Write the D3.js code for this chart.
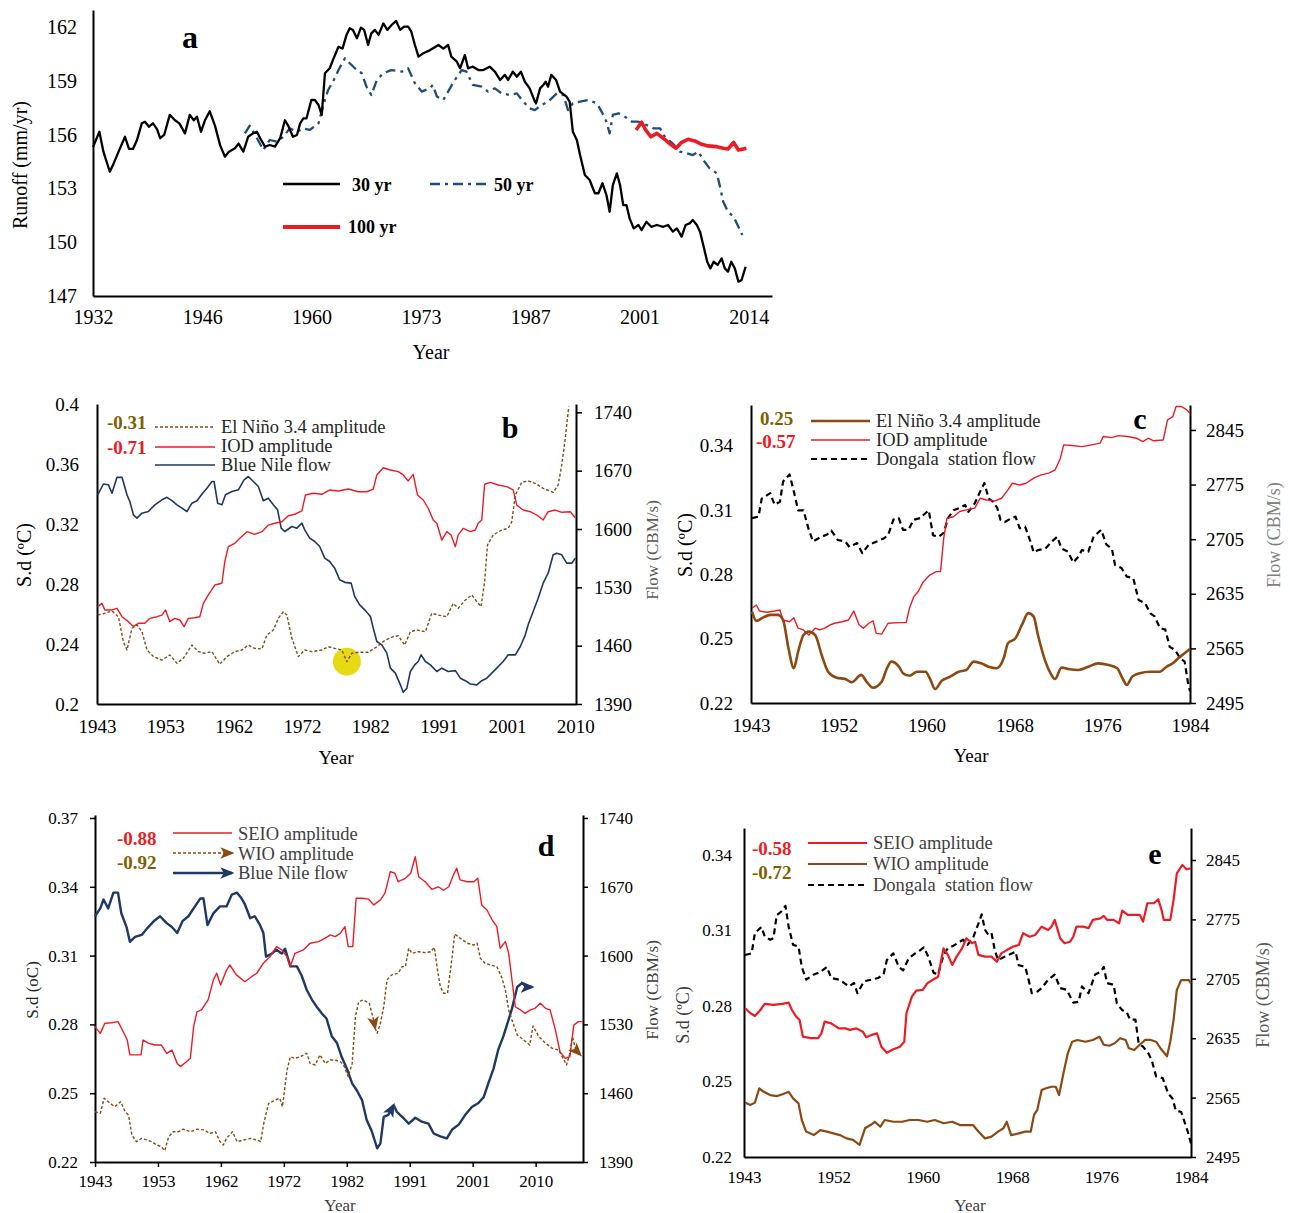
<!DOCTYPE html>
<html>
<head>
<meta charset="utf-8">
<script src="https://cdn.jsdelivr.net/npm/d3@7"></script>
<style>
  body { margin: 0; background: #fff; }
  svg, svg text { font-family: "Liberation Serif", "Times New Roman", serif; }
  .axis .domain { stroke: #000; stroke-width: 2; }
  .axis .tick line { stroke: #000; stroke-width: 1.5; }
  .axis .tick text { fill: #000; }
</style>
</head>
<body>
<svg id="fig" width="1290" height="1213"></svg>
<script>
// ---------- panel a : runoff moving averages ----------
const runoffYears = ['1932', '1946', '1960', '1973', '1987', '2001', '2014'];
const runoffTicks = [147, 150, 153, 156, 159, 162];
const runoff30 = [[1932.0,155.3],[1932.8,156.16],[1933.3,155.05],[1934.1,153.93],[1934.5,154.3],[1935.2,155.05],[1936.0,155.88],[1936.5,155.2],[1937.0,155.2],[1937.5,155.7],[1938.1,156.63],[1938.5,156.72],[1939.0,156.44],[1939.5,156.63],[1940.0,156.31],[1940.4,155.8],[1940.9,155.98],[1941.6,157.1],[1942.25,156.8],[1942.8,156.63],[1943.5,156.07],[1944.1,157.1],[1944.6,156.8],[1945.0,157.0],[1945.5,156.16],[1946.0,156.8],[1946.6,157.3],[1947.25,156.5],[1947.9,155.4],[1948.5,154.77],[1949.0,155.05],[1949.75,155.24],[1950.2,155.5],[1950.8,155.05],[1951.4,155.88],[1952.0,156.07],[1952.5,156.16],[1952.9,155.8],[1953.5,155.33],[1954.1,155.42],[1954.75,155.33],[1955.4,155.8],[1956.0,156.8],[1956.4,156.5],[1957.0,155.88],[1957.5,155.98],[1957.9,156.63],[1958.3,156.91],[1958.7,156.91],[1959.3,157.93],[1959.75,157.93],[1960.2,157.65],[1960.6,157.1],[1961.0,159.42],[1961.6,159.7],[1962.0,160.16],[1962.7,160.9],[1963.2,160.8],[1963.7,161.56],[1964.1,161.93],[1964.5,161.84],[1965.0,161.37],[1965.5,161.97],[1965.9,161.84],[1966.4,161.0],[1966.8,161.65],[1967.25,161.84],[1967.7,161.56],[1968.3,162.2],[1968.8,161.84],[1969.3,162.1],[1969.9,162.34],[1970.4,161.84],[1970.9,162.02],[1971.4,162.02],[1971.8,161.74],[1972.25,161.0],[1972.7,160.35],[1973.3,160.54],[1974.1,160.7],[1975.2,161.0],[1975.8,160.8],[1976.4,161.0],[1976.8,160.35],[1977.5,160.07],[1977.9,159.7],[1978.5,160.44],[1978.9,159.7],[1979.5,159.79],[1980.2,159.6],[1980.8,159.6],[1981.6,159.79],[1982.25,159.51],[1982.9,159.05],[1983.5,159.33],[1983.9,159.05],[1984.5,159.51],[1985.0,159.23],[1985.5,159.51],[1986.0,158.95],[1986.6,158.58],[1987.25,157.84],[1987.4,157.75],[1987.9,158.58],[1988.3,158.77],[1988.6,158.95],[1988.9,158.67],[1989.3,159.33],[1989.9,159.05],[1990.4,158.4],[1991.2,158.12],[1991.6,157.84],[1992.0,156.16],[1992.5,155.7],[1992.9,154.86],[1993.5,153.75],[1994.1,153.47],[1994.75,152.73],[1995.2,152.73],[1995.7,153.29],[1996.2,152.63],[1996.6,151.7],[1997.0,153.19],[1997.5,153.84],[1997.9,153.19],[1998.3,152.07],[1998.7,152.07],[1999.1,151.33],[1999.6,150.77],[2000.2,150.96],[2000.6,150.68],[2001.2,151.14],[2001.8,150.86],[2002.5,150.96],[2003.3,150.86],[2003.9,150.96],[2004.5,150.59],[2005.0,150.77],[2005.6,150.31],[2006.1,150.96],[2006.6,151.05],[2007.0,151.24],[2007.5,150.96],[2007.9,150.59],[2008.4,149.66],[2008.8,148.91],[2009.2,148.54],[2009.6,148.91],[2010.1,148.73],[2010.6,149.1],[2011.0,148.54],[2011.4,148.36],[2011.8,148.91],[2012.25,148.54],[2012.7,147.8],[2013.1,147.89],[2013.6,148.63]];
const runoff50 = [[1951.0,156.07],[1951.6,156.5],[1952.5,155.8],[1953.3,155.14],[1954.1,155.7],[1955.0,155.6],[1955.8,155.88],[1956.6,156.35],[1957.5,156.16],[1958.3,156.35],[1959.1,156.26],[1960.2,156.63],[1960.8,157.65],[1961.4,158.49],[1962.0,158.95],[1962.7,159.6],[1963.5,160.26],[1964.1,159.98],[1964.75,159.7],[1965.6,159.42],[1966.2,158.67],[1966.8,158.21],[1967.5,159.05],[1968.3,159.42],[1969.3,159.6],[1970.6,159.51],[1971.4,159.7],[1972.25,158.86],[1973.1,158.4],[1974.1,158.58],[1974.5,158.77],[1975.0,158.12],[1975.8,157.93],[1976.4,158.4],[1977.25,159.05],[1978.1,159.6],[1978.7,159.51],[1979.5,158.77],[1980.6,158.67],[1981.4,158.4],[1982.25,158.58],[1983.1,158.3],[1984.1,158.21],[1985.0,158.3],[1985.8,157.84],[1986.6,157.47],[1987.25,157.37],[1988.1,157.65],[1988.9,157.84],[1990.0,158.3],[1990.8,158.21],[1991.4,157.37],[1992.0,157.75],[1992.9,157.84],[1993.9,157.93],[1995.0,157.75],[1995.6,157.28],[1996.2,156.72],[1996.6,156.07],[1997.0,157.1],[1997.7,157.19],[1998.5,157.0],[1999.4,156.72],[2000.2,156.72],[2001.2,156.54],[2002.1,156.35],[2002.9,156.35],[2003.5,155.88],[2004.5,155.5],[2005.4,155.05],[2006.2,154.96],[2007.0,154.86],[2007.7,155.05],[2008.3,154.59],[2009.1,154.12],[2010.0,153.84],[2010.4,153.1],[2010.8,152.26],[2011.4,151.7],[2012.1,151.42],[2012.7,150.86],[2013.2,150.4]];
const runoff100 = [[1999.9,156.26],[2000.6,156.69],[2001.1,156.26],[2001.75,155.88],[2002.5,156.07],[2003.3,155.8],[2004.1,155.5],[2004.9,155.24],[2005.6,155.57],[2006.4,155.74],[2007.25,155.65],[2008.1,155.46],[2008.9,155.37],[2010.0,155.33],[2010.8,155.24],[2011.4,155.2],[2012.1,155.57],[2012.7,155.14],[2013.3,155.2],[2013.7,155.24]];

// ---------- panel b : Blue Nile vs El Nino / IOD ----------
const longYears = ['1943', '1953', '1962', '1972', '1982', '1991', '2001', '2010'];
const sdTicksB = [0.2, 0.24, 0.28, 0.32, 0.36, 0.4];
const flowTicksBlue = [1390, 1460, 1530, 1600, 1670, 1740];
const ninoB = [[1943.1,0.2593],[1944.1,0.2605],[1945.1,0.262],[1946.0,0.2582],[1946.7,0.2415],[1947.2,0.236],[1947.9,0.2505],[1948.6,0.2527],[1949.3,0.2482],[1950.0,0.236],[1950.9,0.2316],[1952.1,0.2293],[1953.2,0.2327],[1954.2,0.2271],[1955.1,0.2305],[1956.3,0.2393],[1957.2,0.2349],[1958.1,0.2338],[1959.1,0.2349],[1960.2,0.2265],[1961.2,0.2316],[1962.3,0.2349],[1963.3,0.236],[1964.2,0.2393],[1965.1,0.2371],[1966.1,0.2367],[1966.8,0.246],[1967.7,0.2493],[1968.4,0.2571],[1969.1,0.2615],[1969.6,0.2593],[1970.3,0.2438],[1971.2,0.2316],[1972.1,0.236],[1973.1,0.2349],[1974.5,0.236],[1975.4,0.2382],[1976.3,0.2371],[1977.3,0.236],[1978.0,0.2282],[1978.7,0.2338],[1979.6,0.2345],[1981.0,0.2345],[1982.2,0.2382],[1983.4,0.2427],[1984.5,0.2449],[1985.2,0.2455],[1986.1,0.2393],[1986.9,0.2482],[1987.8,0.2493],[1989.0,0.2482],[1989.9,0.2605],[1990.8,0.2593],[1992.0,0.2582],[1992.9,0.2671],[1993.6,0.2638],[1994.6,0.2693],[1995.5,0.2727],[1996.2,0.2682],[1996.8,0.2649],[1997.3,0.2815],[1997.7,0.306],[1998.5,0.3127],[1999.7,0.316],[2000.6,0.3171],[2001.1,0.3215],[2001.6,0.3393],[2002.5,0.3478],[2003.4,0.3487],[2004.4,0.3471],[2005.5,0.3438],[2006.9,0.3411],[2007.6,0.346],[2008.1,0.3593],[2008.6,0.3771],[2008.9,0.3905],[2009.1,0.3982]];
const iodB = [[1943.1,0.2649],[1943.7,0.2671],[1944.1,0.2627],[1945.1,0.2627],[1945.8,0.2638],[1946.5,0.2582],[1947.4,0.2549],[1948.1,0.2516],[1948.8,0.2538],[1949.7,0.2538],[1950.4,0.2571],[1951.4,0.2582],[1952.1,0.2593],[1952.6,0.2627],[1953.2,0.2549],[1953.9,0.2571],[1954.6,0.256],[1955.2,0.2516],[1955.8,0.2571],[1956.7,0.2575],[1957.4,0.2582],[1957.9,0.2671],[1958.6,0.2727],[1959.5,0.2793],[1960.5,0.2805],[1960.9,0.2949],[1961.4,0.3049],[1962.3,0.3071],[1963.0,0.3105],[1964.0,0.3149],[1965.1,0.3131],[1966.1,0.3149],[1967.0,0.3193],[1967.9,0.3205],[1968.9,0.3215],[1969.8,0.3255],[1970.7,0.3265],[1971.7,0.3287],[1972.2,0.3393],[1973.3,0.3405],[1974.5,0.3398],[1975.6,0.3427],[1976.8,0.342],[1978.2,0.3433],[1979.6,0.3415],[1980.8,0.3415],[1981.7,0.3433],[1982.2,0.3527],[1983.1,0.3575],[1984.1,0.356],[1985.2,0.3549],[1985.9,0.3527],[1986.6,0.3487],[1987.3,0.3531],[1987.9,0.3393],[1988.7,0.336],[1989.4,0.3305],[1990.1,0.3227],[1990.6,0.3205],[1991.3,0.3093],[1992.0,0.3149],[1992.6,0.3127],[1993.2,0.3049],[1993.6,0.3127],[1994.3,0.3171],[1995.3,0.3149],[1996.0,0.316],[1996.4,0.3205],[1996.9,0.3227],[1997.3,0.3465],[1998.1,0.3478],[1999.2,0.346],[2000.4,0.3449],[2001.3,0.3427],[2001.8,0.3327],[2002.7,0.3293],[2003.7,0.3282],[2004.6,0.326],[2005.5,0.3227],[2006.2,0.3282],[2007.2,0.3293],[2008.1,0.3278],[2009.3,0.3282],[2010.0,0.3242]];
const blueNileB = [[1943.1,1641],[1943.9,1654],[1944.6,1653],[1945.1,1643],[1945.8,1662],[1946.5,1662],[1947.2,1641],[1947.6,1633],[1948.1,1617],[1948.6,1613],[1949.3,1619],[1950.2,1621],[1951.1,1629],[1952.1,1635],[1952.8,1638],[1953.5,1634],[1954.2,1629],[1954.9,1625],[1955.6,1621],[1956.3,1631],[1957.0,1634],[1957.8,1643],[1958.4,1649],[1959.1,1657],[1959.4,1657],[1959.9,1631],[1960.5,1629],[1961.0,1641],[1961.9,1645],[1962.8,1647],[1963.6,1659],[1964.2,1663],[1964.9,1657],[1965.6,1651],[1966.3,1634],[1967.0,1637],[1967.7,1629],[1968.3,1623],[1968.8,1601],[1969.3,1597],[1970.3,1603],[1971.0,1601],[1971.7,1607],[1972.1,1599],[1972.8,1589],[1973.5,1585],[1974.2,1579],[1974.9,1565],[1975.6,1561],[1976.3,1553],[1977.0,1539],[1977.7,1536],[1978.6,1535],[1979.1,1519],[1979.8,1509],[1980.5,1503],[1981.3,1495],[1981.7,1481],[1982.2,1465],[1982.9,1461],[1983.6,1451],[1984.1,1433],[1984.8,1427],[1985.5,1413],[1985.9,1404],[1986.4,1409],[1986.9,1429],[1987.5,1437],[1988.0,1441],[1988.4,1449],[1989.0,1441],[1989.7,1437],[1990.6,1429],[1991.3,1433],[1992.2,1429],[1993.2,1430],[1993.9,1421],[1994.6,1418],[1995.3,1414],[1996.2,1413],[1996.9,1418],[1997.6,1421],[1998.3,1427],[1999.0,1433],[1999.9,1441],[2000.6,1449],[2001.6,1449],[2002.3,1459],[2003.0,1473],[2003.4,1485],[2004.1,1501],[2004.8,1517],[2005.5,1535],[2006.2,1547],[2006.9,1569],[2007.4,1571],[2008.1,1569],[2008.8,1559],[2009.5,1559],[2010.0,1565]];
const highlightB = [1978.0, 0.2282];

// ---------- panel c : Dongala vs El Nino / IOD ----------
const shortYears = ['1943', '1952', '1960', '1968', '1976', '1984'];
const sdTicksShort = [0.22, 0.25, 0.28, 0.31, 0.34];
const flowTicksDongala = [2495, 2565, 2635, 2705, 2775, 2845];
const ninoC = [[1943.1,0.2626],[1943.5,0.2583],[1944.1,0.2598],[1944.8,0.2611],[1945.5,0.2611],[1946.0,0.2587],[1946.5,0.2455],[1947.0,0.2362],[1947.4,0.2439],[1947.9,0.2517],[1948.4,0.2533],[1949.0,0.2517],[1949.6,0.2424],[1950.2,0.2346],[1951.0,0.2318],[1951.8,0.2312],[1952.4,0.2297],[1953.3,0.2331],[1953.8,0.2299],[1954.4,0.2271],[1955.2,0.2299],[1955.7,0.2362],[1956.1,0.2393],[1956.8,0.2371],[1957.2,0.2339],[1957.8,0.2327],[1958.5,0.2346],[1959.3,0.2346],[1959.7,0.2315],[1960.2,0.2265],[1960.8,0.2303],[1961.6,0.2323],[1962.4,0.2346],[1963.1,0.2354],[1963.8,0.2393],[1964.5,0.2385],[1965.2,0.2369],[1965.9,0.2362],[1966.6,0.2409],[1967.0,0.2479],[1967.7,0.2502],[1968.3,0.2564],[1968.9,0.2619],[1969.4,0.2603],[1969.8,0.2517],[1970.5,0.2393],[1970.9,0.2346],[1971.4,0.2312],[1972.0,0.2365],[1972.6,0.2359],[1973.6,0.2354],[1974.5,0.2369],[1975.4,0.2385],[1976.4,0.2377],[1977.2,0.2362],[1977.7,0.2315],[1978.1,0.2284],[1978.6,0.2323],[1979.3,0.2339],[1980.3,0.2346],[1981.2,0.2346],[1981.8,0.2369],[1982.4,0.2385],[1982.9,0.2409],[1983.5,0.2432],[1984.0,0.2452]];
const iodC = [[1943.1,0.2642],[1943.5,0.2657],[1943.8,0.2629],[1944.5,0.2623],[1945.2,0.2629],[1945.7,0.2634],[1946.0,0.2587],[1946.6,0.2579],[1947.0,0.2598],[1947.4,0.2549],[1947.9,0.2541],[1948.4,0.2517],[1949.0,0.2549],[1949.4,0.2541],[1949.9,0.2549],[1950.4,0.2564],[1950.8,0.2572],[1951.5,0.2579],[1952.1,0.2587],[1952.6,0.2629],[1953.1,0.2564],[1953.5,0.2549],[1954.0,0.2572],[1954.4,0.2583],[1954.7,0.2525],[1955.2,0.2521],[1955.8,0.2572],[1956.8,0.2575],[1957.5,0.2575],[1957.8,0.2642],[1958.2,0.2696],[1958.6,0.2719],[1959.1,0.2766],[1959.7,0.2797],[1960.3,0.2813],[1960.7,0.2813],[1961.0,0.2969],[1961.3,0.3062],[1961.9,0.3069],[1962.5,0.3093],[1963.1,0.3101],[1963.9,0.3109],[1964.4,0.3155],[1965.0,0.3147],[1965.8,0.3143],[1966.4,0.3155],[1967.0,0.3194],[1967.4,0.3225],[1968.1,0.3217],[1968.7,0.3225],[1969.4,0.3249],[1970.1,0.3264],[1970.8,0.3272],[1971.4,0.3287],[1971.9,0.3342],[1972.2,0.3404],[1973.0,0.3401],[1973.9,0.3396],[1974.8,0.3404],[1975.6,0.3412],[1975.9,0.3443],[1976.7,0.3438],[1977.3,0.3447],[1978.2,0.3443],[1979.0,0.3435],[1979.6,0.3419],[1980.1,0.3435],[1980.6,0.3423],[1981.5,0.3427],[1981.9,0.3521],[1982.4,0.3536],[1982.7,0.3583],[1983.2,0.3583],[1983.7,0.3567],[1984.0,0.3552]];
const dongalaC = [[1943.1,2732],[1943.7,2734],[1944.0,2757],[1944.8,2764],[1945.2,2749],[1945.7,2753],[1946.0,2779],[1946.6,2788],[1947.0,2766],[1947.4,2742],[1947.9,2742],[1948.4,2717],[1948.8,2702],[1949.4,2707],[1950.1,2711],[1950.5,2716],[1951.1,2704],[1951.8,2702],[1952.2,2695],[1952.9,2700],[1953.4,2687],[1954.0,2698],[1954.4,2700],[1954.9,2703],[1955.4,2706],[1955.8,2710],[1956.3,2730],[1956.8,2732],[1957.2,2717],[1957.7,2717],[1958.2,2730],[1958.8,2732],[1959.1,2736],[1959.6,2742],[1960.0,2710],[1960.5,2708],[1961.0,2713],[1961.4,2732],[1961.9,2742],[1962.5,2745],[1963.0,2749],[1963.3,2740],[1963.9,2751],[1964.4,2766],[1964.8,2777],[1965.2,2757],[1965.6,2753],[1966.0,2745],[1966.3,2730],[1966.7,2727],[1967.2,2731],[1967.7,2734],[1968.1,2719],[1968.6,2721],[1969.1,2702],[1969.4,2688],[1969.8,2691],[1970.5,2693],[1971.1,2702],[1971.6,2708],[1972.0,2693],[1972.6,2689],[1973.1,2675],[1973.6,2683],[1973.9,2691],[1974.5,2689],[1975.0,2708],[1975.7,2717],[1976.2,2698],[1976.7,2693],[1977.0,2672],[1977.6,2668],[1978.1,2657],[1978.7,2655],[1979.2,2627],[1979.8,2623],[1980.3,2610],[1980.7,2606],[1981.2,2591],[1981.7,2589],[1982.1,2567],[1982.6,2563],[1983.1,2552],[1983.5,2548],[1983.8,2522],[1984.0,2510]];

// ---------- panel d : Blue Nile vs SEIO / WIO ----------
const sdTicksD = [0.22, 0.25, 0.28, 0.31, 0.34, 0.37];
const seioD = [[1943.0,0.279],[1943.8,0.2761],[1944.5,0.2805],[1945.5,0.2807],[1946.5,0.2812],[1947.3,0.2768],[1947.9,0.2732],[1948.3,0.2667],[1949.3,0.2667],[1950.0,0.2667],[1950.3,0.2732],[1951.1,0.2718],[1952.1,0.271],[1953.1,0.271],[1953.9,0.2674],[1954.7,0.2688],[1955.5,0.263],[1956.0,0.2616],[1956.9,0.2637],[1957.5,0.2652],[1958.0,0.279],[1958.5,0.2855],[1959.2,0.2863],[1960.2,0.2907],[1961.0,0.2994],[1961.5,0.3023],[1962.1,0.2972],[1963.0,0.3037],[1963.5,0.3059],[1964.5,0.3016],[1965.8,0.2986],[1966.8,0.3008],[1967.6,0.3023],[1968.6,0.3067],[1969.6,0.3095],[1970.6,0.3139],[1971.4,0.3125],[1972.2,0.3095],[1972.7,0.3052],[1973.4,0.311],[1974.7,0.3125],[1975.7,0.3154],[1977.0,0.3161],[1978.0,0.3176],[1978.8,0.319],[1979.5,0.3183],[1980.3,0.3197],[1981.0,0.3226],[1981.5,0.3139],[1982.2,0.3139],[1982.7,0.335],[1983.6,0.335],[1984.6,0.3346],[1985.4,0.3321],[1986.4,0.3343],[1987.1,0.3372],[1987.9,0.3466],[1988.6,0.3459],[1989.1,0.3422],[1990.2,0.3437],[1991.0,0.3459],[1991.7,0.3531],[1992.2,0.3444],[1993.2,0.3422],[1994.2,0.3389],[1995.2,0.34],[1996.0,0.3385],[1996.8,0.34],[1997.5,0.3452],[1998.0,0.3481],[1998.5,0.343],[1999.6,0.3422],[2000.6,0.3422],[2001.2,0.3437],[2001.8,0.3321],[2002.6,0.3299],[2003.4,0.3255],[2004.1,0.3226],[2004.6,0.3132],[2005.4,0.3161],[2005.9,0.311],[2006.4,0.2994],[2006.9,0.2877],[2007.7,0.2863],[2008.4,0.2848],[2009.2,0.2863],[2009.9,0.287],[2010.7,0.2892],[2011.5,0.287],[2012.2,0.2863],[2013.0,0.2776],[2013.7,0.2681],[2014.5,0.2652],[2015.2,0.2659],[2015.8,0.2797],[2016.5,0.2812],[2017.2,0.2812]];
const wioD1 = [[1943.0,0.2419],[1943.8,0.2412],[1944.4,0.2478],[1945.3,0.2456],[1946.0,0.2441],[1946.9,0.2463],[1947.6,0.2419],[1948.1,0.2405],[1948.6,0.2318],[1949.3,0.2289],[1950.1,0.2303],[1950.9,0.2296],[1951.6,0.2289],[1952.4,0.2274],[1953.1,0.2267],[1953.6,0.2249],[1954.2,0.231],[1954.9,0.2332],[1955.7,0.2332],[1956.4,0.2343],[1957.5,0.2332],[1958.5,0.2343],[1959.5,0.234],[1960.5,0.2325],[1961.3,0.2332],[1962.0,0.2289],[1962.5,0.2274],[1963.0,0.2303],[1963.9,0.2332],[1964.6,0.2289],[1965.6,0.2296],[1966.6,0.2303],[1967.6,0.2296],[1968.2,0.2289],[1968.6,0.2361],[1969.4,0.2456],[1970.4,0.247],[1971.1,0.2478],[1971.5,0.2441],[1972.2,0.2601],[1972.7,0.2659],[1973.4,0.2652],[1974.2,0.2659],[1975.2,0.2674],[1975.7,0.263],[1976.5,0.2623],[1977.2,0.2667],[1978.0,0.263],[1978.8,0.2645],[1979.5,0.2645],[1980.3,0.2637],[1980.8,0.2623],[1981.5,0.2572],[1982.1,0.263],[1982.6,0.2834],[1983.1,0.2899],[1983.8,0.2907],[1984.7,0.2892],[1985.3,0.2827],[1985.6,0.2783]];
const wioD2 = [[1985.6,0.2783],[1985.9,0.2761],[1986.4,0.2805],[1986.9,0.2877],[1987.4,0.2994],[1988.1,0.3016],[1989.1,0.3023],[1989.7,0.3052],[1990.2,0.3052],[1990.7,0.3132],[1991.2,0.311],[1992.2,0.3117],[1993.2,0.3113],[1994.0,0.3117],[1994.6,0.3136],[1995.0,0.3052],[1995.5,0.2965],[1996.0,0.2936],[1996.6,0.2936],[1997.3,0.3095],[1997.7,0.3194],[1998.5,0.3176],[1999.6,0.3154],[2000.6,0.3146],[2001.1,0.3154],[2001.6,0.3088],[2002.3,0.3067],[2003.1,0.3059],[2004.1,0.3052],[2004.9,0.3001],[2005.4,0.295],[2005.9,0.2863],[2006.4,0.2819],[2007.2,0.2754],[2008.2,0.2732],[2009.1,0.271],[2009.6,0.2793],[2010.5,0.2746],[2011.5,0.2718],[2012.5,0.2696],[2013.5,0.2688],[2014.3,0.2645],[2014.7,0.2623],[2015.2,0.2674],[2015.6,0.2746],[2016.1,0.2688],[2016.8,0.2667]];
const blueNileD1 = [[1943.0,1640],[1943.8,1648],[1944.3,1657],[1945.0,1648],[1945.8,1664],[1946.5,1664],[1947.0,1643],[1947.8,1629],[1948.3,1614],[1949.1,1619],[1950.1,1621],[1951.1,1629],[1952.1,1636],[1952.9,1640],[1953.9,1633],[1954.7,1629],[1955.5,1623],[1956.3,1635],[1957.2,1640],[1958.2,1650],[1959.0,1658],[1959.5,1658],[1960.1,1631],[1961.0,1643],[1962.0,1650],[1963.0,1650],[1963.8,1662],[1964.6,1664],[1965.3,1658],[1965.8,1652],[1966.6,1638],[1967.3,1640],[1968.1,1631],[1968.6,1623],[1969.0,1599],[1969.9,1602],[1970.6,1606],[1971.4,1602],[1971.9,1607],[1972.7,1589],[1973.7,1589],[1974.4,1580],[1975.2,1565],[1976.0,1555],[1976.7,1548],[1977.5,1541],[1978.2,1536],[1979.0,1518],[1979.8,1511],[1980.5,1497],[1981.3,1485],[1982.1,1470],[1982.8,1463],[1983.6,1453],[1984.3,1433],[1985.1,1421],[1985.9,1404],[1986.4,1409],[1986.9,1436],[1987.6,1438],[1988.4,1448]];
const blueNileD2 = [[1988.4,1448],[1988.9,1441],[1989.7,1436],[1990.7,1429],[1991.7,1435],[1992.7,1431],[1993.7,1429],[1994.5,1419],[1995.5,1416],[1996.5,1414],[1997.3,1423],[1998.3,1428],[1999.3,1438],[2000.3,1446],[2001.3,1450],[2002.1,1456],[2002.8,1470],[2003.6,1485],[2004.3,1504],[2005.1,1518],[2005.9,1535],[2006.4,1546],[2007.2,1568],[2007.9,1572],[2008.7,1568],[2009.5,1568]];

// ---------- panel e : Dongala vs SEIO / WIO ----------
const seioE = [[1943.1,0.2791],[1943.6,0.2771],[1944.0,0.276],[1944.5,0.2784],[1944.9,0.2808],[1945.7,0.2804],[1946.5,0.2808],[1947.1,0.2813],[1947.4,0.2784],[1947.8,0.2757],[1948.1,0.2744],[1948.4,0.2678],[1949.1,0.2672],[1949.8,0.2672],[1950.1,0.2691],[1950.4,0.2738],[1951.0,0.2731],[1951.7,0.2711],[1952.3,0.2711],[1952.7,0.2705],[1953.3,0.2711],[1953.9,0.2698],[1954.2,0.2676],[1954.7,0.2685],[1955.2,0.2691],[1955.6,0.2638],[1956.1,0.2614],[1956.7,0.2628],[1957.3,0.2638],[1957.7,0.2658],[1957.9,0.2771],[1958.4,0.2837],[1958.8,0.2861],[1959.4,0.2864],[1959.8,0.289],[1960.4,0.2906],[1960.8,0.2916],[1961.3,0.3029],[1961.7,0.3003],[1962.1,0.2963],[1962.5,0.2996],[1963.0,0.3029],[1963.4,0.3069],[1963.9,0.3049],[1964.2,0.3055],[1964.5,0.3003],[1965.1,0.2996],[1965.7,0.2996],[1966.2,0.2976],[1966.6,0.3009],[1967.1,0.3022],[1967.4,0.3029],[1967.7,0.3036],[1968.2,0.3042],[1968.6,0.3089],[1969.2,0.3075],[1969.7,0.3082],[1970.3,0.3115],[1970.9,0.3102],[1971.2,0.3115],[1971.5,0.3142],[1972.0,0.3069],[1972.4,0.3049],[1972.9,0.3055],[1973.2,0.3075],[1973.5,0.3115],[1974.1,0.3115],[1974.6,0.3109],[1975.0,0.3142],[1975.7,0.3148],[1976.0,0.3158],[1976.3,0.3142],[1976.9,0.3142],[1977.4,0.3128],[1977.7,0.3179],[1978.2,0.3162],[1978.8,0.3162],[1979.3,0.3162],[1979.6,0.3135],[1980.0,0.3208],[1980.6,0.3208],[1981.0,0.3224],[1981.3,0.3181],[1981.5,0.3142],[1982.1,0.3142],[1982.4,0.3221],[1982.7,0.3327],[1983.2,0.336],[1983.6,0.3343],[1984.0,0.3347]];
const wioE = [[1943.1,0.2416],[1943.6,0.2407],[1944.0,0.2416],[1944.4,0.2473],[1944.8,0.2459],[1945.4,0.2446],[1946.0,0.2442],[1946.6,0.245],[1947.1,0.2459],[1947.5,0.2433],[1948.0,0.2413],[1948.3,0.2347],[1948.7,0.2301],[1949.4,0.2287],[1950.0,0.2307],[1950.6,0.2301],[1951.2,0.2294],[1951.8,0.2287],[1952.4,0.2274],[1953.0,0.2268],[1953.6,0.2248],[1954.1,0.2314],[1954.6,0.2327],[1955.0,0.234],[1955.5,0.232],[1955.9,0.2347],[1956.7,0.234],[1957.5,0.234],[1958.2,0.2347],[1959.0,0.2347],[1959.8,0.234],[1960.5,0.2347],[1961.3,0.2334],[1962.1,0.234],[1962.8,0.2327],[1963.4,0.2327],[1964.0,0.2327],[1964.5,0.2301],[1965.1,0.2274],[1965.7,0.2281],[1966.3,0.2301],[1966.8,0.2314],[1967.1,0.234],[1967.5,0.2287],[1968.2,0.2294],[1968.8,0.2301],[1969.3,0.2301],[1969.6,0.2367],[1969.9,0.2387],[1970.3,0.2466],[1970.7,0.2473],[1971.2,0.2479],[1971.6,0.2479],[1971.9,0.2446],[1972.3,0.2533],[1972.7,0.2612],[1973.1,0.2658],[1973.6,0.2665],[1974.3,0.2658],[1975.0,0.2665],[1975.6,0.2678],[1976.0,0.2646],[1976.5,0.2642],[1977.0,0.2652],[1977.5,0.2672],[1978.0,0.2665],[1978.3,0.2632],[1978.8,0.2625],[1979.3,0.2646],[1979.8,0.2665],[1980.3,0.2665],[1980.8,0.2658],[1981.2,0.2632],[1981.8,0.2600],[1982.1,0.2658],[1982.4,0.2744],[1982.7,0.2864],[1983.1,0.2903],[1983.8,0.2903],[1984.0,0.289]];
const dongalaE = [[1943.1,2733],[1943.7,2735],[1944.0,2759],[1944.6,2766],[1944.9,2755],[1945.4,2751],[1945.7,2753],[1946.0,2780],[1946.4,2784],[1946.8,2791],[1947.1,2766],[1947.5,2745],[1948.0,2743],[1948.3,2719],[1948.7,2704],[1949.4,2710],[1950.0,2713],[1950.6,2719],[1951.0,2706],[1951.7,2704],[1952.2,2700],[1952.6,2696],[1953.1,2700],[1953.4,2688],[1954.0,2702],[1954.7,2704],[1955.3,2706],[1955.8,2710],[1956.1,2727],[1956.7,2735],[1957.2,2719],[1957.6,2715],[1958.1,2729],[1958.7,2735],[1959.2,2739],[1959.5,2742],[1959.9,2731],[1960.4,2712],[1960.8,2710],[1961.3,2733],[1961.7,2741],[1962.2,2744],[1962.6,2747],[1963.1,2751],[1963.5,2745],[1964.0,2753],[1964.5,2770],[1964.8,2781],[1965.1,2763],[1965.4,2757],[1965.7,2759],[1966.0,2739],[1966.3,2727],[1966.9,2731],[1967.6,2735],[1967.9,2737],[1968.2,2721],[1968.8,2719],[1969.1,2704],[1969.4,2688],[1969.9,2690],[1970.3,2694],[1970.9,2704],[1971.5,2710],[1972.0,2694],[1972.6,2692],[1973.2,2677],[1973.7,2678],[1974.0,2696],[1974.6,2688],[1975.2,2710],[1975.7,2713],[1976.0,2719],[1976.3,2700],[1976.9,2698],[1977.2,2676],[1977.7,2668],[1978.1,2666],[1978.4,2657],[1978.9,2657],[1979.2,2629],[1979.6,2625],[1980.1,2617],[1980.4,2609],[1980.8,2590],[1981.4,2588],[1981.9,2570],[1982.3,2564],[1982.6,2550],[1983.1,2548],[1983.7,2525],[1984.0,2511]];

// ---------- colours ----------
const RED = '#ec1c24';
const NAVY = '#1f3866';
const BROWN = '#8c4a12';
const OLIVE = '#7f6000';
const STEEL = '#1f4e79';
const SERIF = '"Liberation Serif", "Times New Roman", serif';

const svg = d3.select('#fig');

const defs = svg.append('defs');
function arrowMarker(id, color) {
  defs.append('marker')
    .attr('id', id)
    .attr('viewBox', '0 0 12 10')
    .attr('refX', 10).attr('refY', 5)
    .attr('markerUnits', 'userSpaceOnUse')
    .attr('markerWidth', 14).attr('markerHeight', 12)
    .attr('orient', 'auto')
    .append('path')
    .attr('d', 'M0,0 L12,5 L0,10 L3,5 Z')
    .attr('fill', color);
}
arrowMarker('arrowNavy', NAVY);
arrowMarker('arrowBrown', BROWN);

function panel(o) {
  const x = d3.scaleLinear().domain(o.xDomain).range([o.left, o.right]);
  const y = d3.scaleLinear().domain(o.yDomain).range([o.bottom, o.top]);
  const yR = o.yRDomain ? d3.scaleLinear().domain(o.yRDomain).range([o.bottom, o.top]) : null;
  const g = svg.append('g');

  const step = (o.xLast - o.xDomain[0]) / (o.xLabels.length - 1);
  const xVals = o.xLabels.map((_, i) => o.xDomain[0] + i * step);
  const fmt = (d) => String(+d.toFixed(2));
  const style = (s) => s.attr('font-family', SERIF)
    .selectAll('text').attr('font-size', o.font).attr('font-family', SERIF);

  g.append('g').attr('class', 'axis')
    .attr('transform', `translate(0,${o.bottom})`)
    .call(d3.axisBottom(x).tickValues(xVals).tickFormat((d, i) => o.xLabels[i])
      .tickSizeInner(o.bTick).tickSizeOuter(0).tickPadding(o.bPad))
    .call(style);

  g.append('g').attr('class', 'axis')
    .attr('transform', `translate(${o.left},0)`)
    .call(d3.axisLeft(y).tickValues(o.yTicks).tickFormat(fmt)
      .tickSizeInner(o.lTick).tickSizeOuter(0).tickPadding(o.lPad))
    .call(style);

  if (yR) {
    g.append('g').attr('class', 'axis')
      .attr('transform', `translate(${o.right},0)`)
      .call(d3.axisRight(yR).tickValues(o.yRTicks).tickFormat(d3.format('d'))
        .tickSizeInner(o.rTick).tickSizeOuter(0).tickPadding(o.rPad))
      .call(style);
  }
  return { g, x, y, yR };
}

function drawLine(p, data, scale, style) {
  const line = d3.line().x((d) => p.x(d[0])).y((d) => scale(d[1]));
  if (style.curve) line.curve(style.curve);
  const path = p.g.append('path')
    .datum(data)
    .attr('d', line)
    .attr('fill', 'none')
    .attr('stroke', style.color)
    .attr('stroke-width', style.width)
    .attr('stroke-linejoin', 'round');
  if (style.dash) path.attr('stroke-dasharray', style.dash);
  if (style.marker) path.attr('marker-end', `url(#${style.marker})`);
  return path;
}

function text(str, x, y, opts = {}) {
  const t = svg.append('text')
    .attr('x', x).attr('y', y)
    .attr('font-size', opts.size || 18)
    .attr('fill', opts.color || '#000')
    .attr('text-anchor', opts.anchor || 'start')
    .attr('dominant-baseline', 'central')
    .style('white-space', 'pre')
    .text(str);
  if (opts.bold) t.attr('font-weight', 'bold');
  if (opts.rotate) t.attr('transform', `rotate(-90,${x},${y})`);
  return t;
}

function legendLine(x1, x2, y, style) {
  const l = svg.append('line')
    .attr('x1', x1).attr('x2', x2).attr('y1', y).attr('y2', y)
    .attr('stroke', style.color).attr('stroke-width', style.width);
  if (style.dash) l.attr('stroke-dasharray', style.dash);
  if (style.marker) l.attr('marker-end', `url(#${style.marker})`);
}

// ================= panel a =================
const pa = panel({
  left: 93, right: 772, top: 10, bottom: 296,
  xDomain: [1932, 2016.9], xLast: 2014, xLabels: runoffYears,
  yDomain: [147, 162.95], yTicks: runoffTicks,
  font: 20, bTick: 0, bPad: 14, lTick: 0, lPad: 16,
});
drawLine(pa, runoff50, pa.y, { color: STEEL, width: 2.3, dash: '10,5,3,5' });
drawLine(pa, runoff30, pa.y, { color: '#000', width: 2.3 });
drawLine(pa, runoff100, pa.y, { color: RED, width: 3.6 });
text('Runoff (mm/yr)', 20, 165, { size: 20, anchor: 'middle', rotate: true });
text('Year', 431, 352, { size: 20, anchor: 'middle' });
text('a', 190, 37, { size: 32, bold: true, anchor: 'middle' });
legendLine(283, 340, 184, { color: '#000', width: 2.5 });
text('30 yr', 352, 185, { size: 18, bold: true });
legendLine(430, 490, 184, { color: STEEL, width: 2.5, dash: '10,5,3,5' });
text('50 yr', 494, 185, { size: 18, bold: true });
legendLine(283, 340, 227, { color: RED, width: 4 });
text('100 yr', 348, 227, { size: 18, bold: true });

// ================= panel b =================
const pb = panel({
  left: 97, right: 576, top: 404, bottom: 704,
  xDomain: [1943, 2010.1], xLast: 2010, xLabels: longYears,
  yDomain: [0.2, 0.4], yTicks: sdTicksB,
  yRDomain: [1390, 1750], yRTicks: flowTicksBlue,
  font: 19, bTick: 0, bPad: 16, lTick: 0, lPad: 18, rTick: 6, rPad: 12,
});
pb.g.append('circle')
  .attr('cx', pb.x(highlightB[0])).attr('cy', pb.y(highlightB[1]))
  .attr('r', 14).attr('fill', '#e6da14');
drawLine(pb, blueNileB, pb.yR, { color: NAVY, width: 1.6 });
drawLine(pb, iodB, pb.y, { color: RED, width: 1.4 });
drawLine(pb, ninoB, pb.y, { color: BROWN, width: 1.4, dash: '3,2' });
text('S.d (ºC)', 24, 555, { size: 20, anchor: 'middle', rotate: true });
text('Flow (CBM/s)', 652, 550, { size: 17, anchor: 'middle', rotate: true, color: '#595959' });
text('Year', 336, 757, { size: 19, anchor: 'middle' });
text('b', 510, 427, { size: 30, bold: true, anchor: 'middle' });
text('-0.31', 107, 422, { size: 19, bold: true, color: OLIVE });
text('-0.71', 107, 447, { size: 19, bold: true, color: RED });
legendLine(155, 215, 427, { color: BROWN, width: 1.5, dash: '3,2' });
legendLine(155, 215, 447, { color: RED, width: 1.5 });
legendLine(155, 215, 465, { color: NAVY, width: 1.6 });
text('El Niño 3.4 amplitude', 221, 427, { size: 18.5, color: '#262626' });
text('IOD amplitude', 221, 446, { size: 18.5, color: '#262626' });
text('Blue Nile flow', 221, 465, { size: 18.5, color: '#262626' });

// ================= panel c =================
const pc = panel({
  left: 751, right: 1190, top: 405, bottom: 703,
  xDomain: [1943, 1984], xLast: 1984, xLabels: shortYears,
  yDomain: [0.22, 0.359], yTicks: sdTicksShort,
  yRDomain: [2495, 2877], yRTicks: flowTicksDongala,
  font: 19, bTick: 0, bPad: 16, lTick: 0, lPad: 18, rTick: 6, rPad: 10,
});
drawLine(pc, dongalaC, pc.yR, { color: '#000', width: 2.2, dash: '6,4' });
drawLine(pc, iodC, pc.y, { color: RED, width: 1.4 });
drawLine(pc, ninoC, pc.y, { color: BROWN, width: 2.6, curve: d3.curveMonotoneX });
text('S.d (ºC)', 685, 545, { size: 20, anchor: 'middle', rotate: true });
text('Flow (CBM/s)', 1274, 535, { size: 18, anchor: 'middle', rotate: true, color: '#808080' });
text('Year', 971, 755, { size: 19, anchor: 'middle' });
text('c', 1140, 418, { size: 30, bold: true, anchor: 'middle' });
text('0.25', 760, 418, { size: 19, bold: true, color: OLIVE });
text('-0.57', 756, 441, { size: 19, bold: true, color: RED });
legendLine(811, 870, 421, { color: BROWN, width: 2.6 });
legendLine(811, 870, 440, { color: RED, width: 1.5 });
legendLine(811, 870, 459, { color: '#000', width: 2.2, dash: '6,4' });
text('El Niño 3.4 amplitude', 876, 421, { size: 18.5, color: '#262626' });
text('IOD amplitude', 876, 440, { size: 18.5, color: '#262626' });
text('Dongala  station flow', 876, 459, { size: 18.5, color: '#262626' });

// ================= panel d =================
const pd = panel({
  left: 95, right: 583, top: 815, bottom: 1162,
  xDomain: [1943, 2017.2], xLast: 2010, xLabels: longYears,
  yDomain: [0.22, 0.3713], yTicks: sdTicksD,
  yRDomain: [1390, 1743], yRTicks: flowTicksBlue,
  font: 17, bTick: 5, bPad: 8, lTick: 5, lPad: 12, rTick: 5, rPad: 11,
});
drawLine(pd, blueNileD1, pd.yR, { color: NAVY, width: 2.4, marker: 'arrowNavy' });
drawLine(pd, blueNileD2, pd.yR, { color: NAVY, width: 2.4, marker: 'arrowNavy' });
drawLine(pd, seioD, pd.y, { color: RED, width: 1.4 });
drawLine(pd, wioD1, pd.y, { color: BROWN, width: 1.4, dash: '3,2', marker: 'arrowBrown' });
drawLine(pd, wioD2, pd.y, { color: BROWN, width: 1.4, dash: '3,2', marker: 'arrowBrown' });
text('S.d (oC)', 32, 990, { size: 17, anchor: 'middle', rotate: true, color: '#262626' });
text('Flow (CBM/s)', 652, 990, { size: 17, anchor: 'middle', rotate: true, color: '#404040' });
text('Year', 340, 1205, { size: 17, anchor: 'middle', color: '#404040' });
text('d', 546, 845, { size: 30, bold: true, anchor: 'middle' });
text('-0.88', 117, 838, { size: 19, bold: true, color: RED });
text('-0.92', 117, 862, { size: 19, bold: true, color: OLIVE });
legendLine(173, 232, 833, { color: RED, width: 1.5 });
legendLine(173, 232, 853, { color: BROWN, width: 1.5, dash: '3,2', marker: 'arrowBrown' });
legendLine(173, 232, 873, { color: NAVY, width: 2.4, marker: 'arrowNavy' });
text('SEIO amplitude', 238, 834, { size: 18.5, color: '#404040' });
text('WIO amplitude', 238, 854, { size: 18.5, color: '#404040' });
text('Blue Nile flow', 238, 873, { size: 18.5, color: '#404040' });

// ================= panel e =================
const pe = panel({
  left: 744, right: 1191, top: 828, bottom: 1157,
  xDomain: [1943, 1984], xLast: 1984, xLabels: shortYears,
  yDomain: [0.22, 0.3507], yTicks: sdTicksShort,
  yRDomain: [2495, 2882.7], yRTicks: flowTicksDongala,
  font: 17, bTick: 0, bPad: 14, lTick: 0, lPad: 12, rTick: 5, rPad: 10,
});
drawLine(pe, dongalaE, pe.yR, { color: '#000', width: 2.2, dash: '6,4' });
drawLine(pe, wioE, pe.y, { color: BROWN, width: 2.2 });
drawLine(pe, seioE, pe.y, { color: RED, width: 2.2 });
text('S.d (ºC)', 683, 1015, { size: 18, anchor: 'middle', rotate: true, color: '#404040' });
text('Flow (CBM/s)', 1263, 995, { size: 18, anchor: 'middle', rotate: true, color: '#595959' });
text('Year', 970, 1205, { size: 17, anchor: 'middle', color: '#404040' });
text('e', 1155, 853, { size: 30, bold: true, anchor: 'middle' });
text('-0.58', 752, 848, { size: 19, bold: true, color: RED });
text('-0.72', 752, 872, { size: 19, bold: true, color: OLIVE });
legendLine(808, 867, 843, { color: RED, width: 2.2 });
legendLine(808, 867, 864, { color: BROWN, width: 2.2 });
legendLine(808, 867, 885, { color: '#000', width: 2.2, dash: '6,4' });
text('SEIO amplitude', 873, 843, { size: 18.5, color: '#404040' });
text('WIO amplitude', 873, 864, { size: 18.5, color: '#404040' });
text('Dongala  station flow', 873, 885, { size: 18.5, color: '#404040' });
</script>
</body>
</html>
